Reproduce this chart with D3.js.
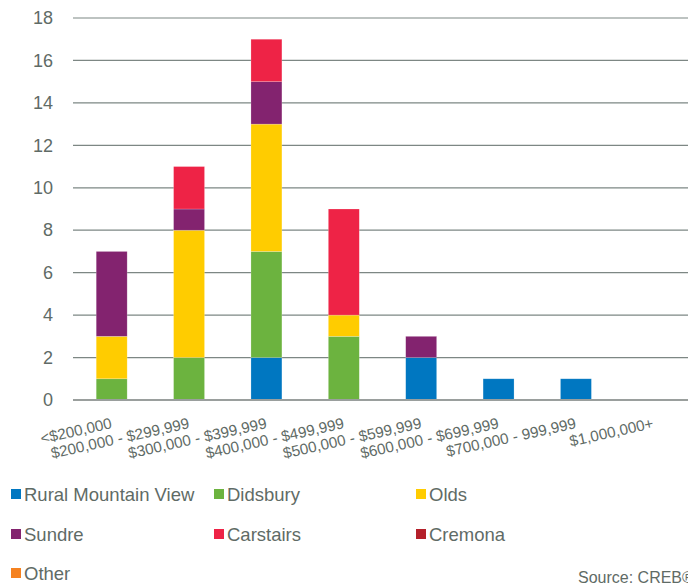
<!DOCTYPE html>
<html>
<head>
<meta charset="utf-8">
<script src="https://cdn.jsdelivr.net/npm/d3@7/dist/d3.min.js"></script>
<style>
  html, body { margin: 0; padding: 0; background: #fff; }
  svg { display: block; font-family: "Liberation Sans", Arial, sans-serif; }
</style>
</head>
<body>
<svg id="chart" width="688" height="585"></svg>
<script>
// Price ranges (x categories)
const categories = [
  "<$200,000", "$200,000 - $299,999", "$300,000 - $399,999", "$400,000 - $499,999",
  "$500,000 - $599,999", "$600,000 - $699,999", "$700,000 - 999,999", "$1,000,000+"
];

// Sales counts by area, one value per price range
const ruralMountainView = [0, 0, 2, 0, 2, 1, 1, 0];
const didsbury          = [1, 2, 5, 3, 0, 0, 0, 0];
const olds              = [2, 6, 6, 1, 0, 0, 0, 0];
const sundre            = [4, 1, 2, 0, 1, 0, 0, 0];
const carstairs         = [0, 2, 2, 5, 0, 0, 0, 0];
const cremona           = [0, 0, 0, 0, 0, 0, 0, 0];
const other             = [0, 0, 0, 0, 0, 0, 0, 0];

const seriesNames = ["Rural Mountain View", "Didsbury", "Olds", "Sundre", "Carstairs", "Cremona", "Other"];
const seriesValues = [ruralMountainView, didsbury, olds, sundre, carstairs, cremona, other];
const seriesColors = ["#0077c1", "#6cb33f", "#ffcc00", "#83236f", "#ee2346", "#b4202a", "#f58220"];

const yTicks = [0, 2, 4, 6, 8, 10, 12, 14, 16, 18];

const textColor = "#5f6b66";
const svg = d3.select("#chart");

const plot = { left: 73, right: 692, top: 18, bottom: 400 };

const x = d3.scaleBand()
  .domain(categories)
  .range([plot.left, plot.right])
  .paddingInner(0.6)
  .paddingOuter(0.3);

const y = d3.scaleLinear()
  .domain([0, 18])
  .range([plot.bottom, plot.top]);

// Build stack rows
const rows = categories.map((c, i) => {
  const r = { category: c };
  seriesNames.forEach((s, k) => { r[s] = seriesValues[k][i]; });
  return r;
});
const stacked = d3.stack().keys(seriesNames)(rows);

// Gridlines
svg.append("g")
  .selectAll("line")
  .data(yTicks.filter(t => t > 0))
  .join("line")
  .attr("x1", plot.left)
  .attr("x2", 688)
  .attr("y1", d => y(d))
  .attr("y2", d => y(d))
  .attr("stroke", "#7d8784")
  .attr("stroke-width", 1.2);

// Y axis labels
const yAxis = d3.axisLeft(y).tickValues(yTicks).tickSize(0).tickPadding(0);
const gy = svg.append("g")
  .attr("transform", `translate(53,0)`)
  .call(yAxis);
gy.select(".domain").remove();
gy.selectAll("text")
  .attr("fill", textColor)
  .attr("font-size", 18)
  .attr("font-family", "Liberation Sans, Arial, sans-serif");

// Bars
svg.append("g")
  .selectAll("g")
  .data(stacked)
  .join("g")
  .attr("fill", (d, i) => seriesColors[i])
  .selectAll("rect")
  .data(d => d)
  .join("rect")
  .attr("x", d => x(d.data.category))
  .attr("width", x.bandwidth())
  .attr("y", d => y(d[1]))
  .attr("height", d => y(d[0]) - y(d[1]))
  .attr("stroke", "#ffffff")
  .attr("stroke-opacity", 0.35)
  .attr("stroke-width", 0.6);

// Baseline
svg.append("line")
  .attr("x1", plot.left)
  .attr("x2", 688)
  .attr("y1", y(0))
  .attr("y2", y(0))
  .attr("stroke", "#9a9f9d")
  .attr("stroke-width", 2);

// X axis labels, rotated
const xAxis = d3.axisBottom(x).tickSize(0).tickPadding(0);
const gx = svg.append("g")
  .attr("transform", `translate(0,${y(0)})`)
  .call(xAxis);
gx.select(".domain").remove();
gx.selectAll("text")
  .attr("fill", textColor)
  .attr("font-size", 15.3)
  .attr("font-family", "Liberation Sans, Arial, sans-serif")
  .attr("text-anchor", "end")
  .attr("dy", 0)
  .attr("y", 0)
  .attr("transform", "translate(1,28) rotate(-12.5)");

// Legend
const legendCols = [11, 214, 416];
const legendRows = [494, 534, 573];
const legend = svg.append("g")
  .selectAll("g")
  .data(seriesNames)
  .join("g")
  .attr("transform", (d, i) => `translate(${legendCols[i % 3]},${legendRows[Math.floor(i / 3)]})`);
legend.append("rect")
  .attr("x", 0)
  .attr("y", -5)
  .attr("width", 10)
  .attr("height", 10)
  .attr("fill", (d, i) => seriesColors[i]);
legend.append("text")
  .attr("x", 13)
  .attr("y", 0)
  .attr("dy", "0.36em")
  .attr("fill", textColor)
  .attr("font-size", 18.5)
  .text(d => d);

// Source note
svg.append("text")
  .attr("x", 578)
  .attr("y", 583)
  .attr("fill", textColor)
  .attr("font-size", 16)
  .text("Source: CREB®");
</script>
</body>
</html>
